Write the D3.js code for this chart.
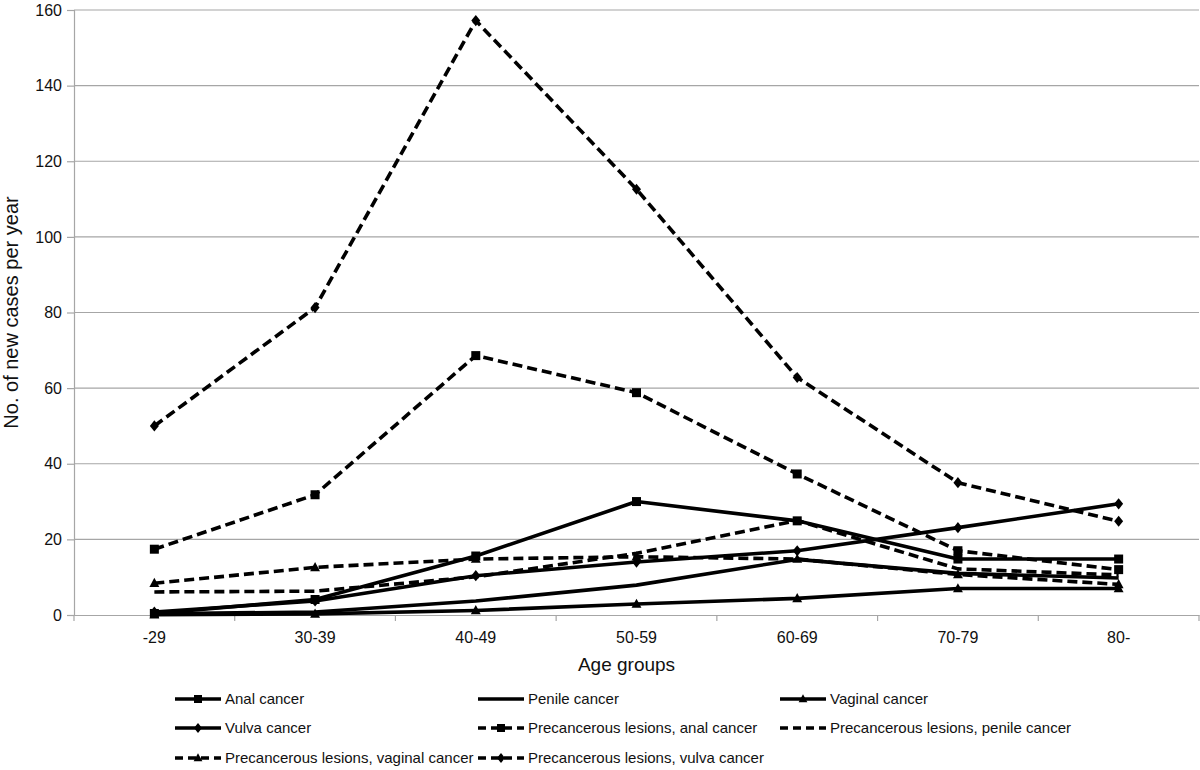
<!DOCTYPE html>
<html><head><meta charset="utf-8">
<script src="https://cdn.jsdelivr.net/npm/d3@7"></script>
<style>body{margin:0;background:#fff}svg{display:block}</style>
</head><body>
<svg id="c" width="1200" height="770"></svg>
<script>
const categories = ["-29","30-39","40-49","50-59","60-69","70-79","80-"];
const yTicks = [0,20,40,60,80,100,120,140,160];
const anal = [0.4, 4.1, 15.6, 30.0, 24.9, 14.8, 14.8];
const penile = [0.3, 0.8, 3.7, 7.9, 14.7, 11.0, 9.8];
const vaginal = [0.1, 0.3, 1.2, 2.9, 4.4, 7.0, 7.0];
const vulva = [0.8, 3.7, 10.4, 14.0, 17.0, 23.1, 29.4];
const preAnal = [17.4, 31.8, 68.6, 58.8, 37.3, 17.0, 12.0];
const prePenile = [6.1, 6.3, 10.1, 16.3, 25.0, 12.2, 10.6];
const preVaginal = [8.4, 12.6, 14.8, 15.4, 14.8, 10.7, 8.1];
const preVulva = [50.0, 81.3, 157.2, 112.6, 62.8, 35.0, 24.8];
const seriesNames = ["Anal cancer","Penile cancer","Vaginal cancer","Vulva cancer",
  "Precancerous lesions, anal  cancer","Precancerous lesions, penile cancer",
  "Precancerous lesions, vaginal  cancer","Precancerous lesions, vulva cancer"];
const seriesValues = [anal, penile, vaginal, vulva, preAnal, prePenile, preVaginal, preVulva];
const seriesMarkers = ["square","none","triangle","diamond","square","none","triangle","diamond"];
const seriesDashed = [false,false,false,false,true,true,true,true];

const svg = d3.select("#c");
const L = 74, R = 1199, T = 10, B = 615;
const x = d3.scaleBand().domain(categories).range([L, R]);
const y = d3.scaleLinear().domain([0,160]).range([B, T]);
const narrow = "'Liberation Sans Narrow','Arial Narrow','Liberation Sans',Arial,sans-serif";
const sans = "'Liberation Sans',Arial,sans-serif";

// gridlines
svg.append("g").selectAll("line").data(yTicks.filter(d=>d>0)).join("line")
  .attr("x1", L).attr("x2", R).attr("y1", d=>y(d)).attr("y2", d=>y(d))
  .attr("stroke", "#a6a6a6").attr("stroke-width", 1.2);

// y axis
const ya = svg.append("g").attr("transform", `translate(${L},0)`)
  .call(d3.axisLeft(y).tickValues(yTicks).tickSize(7).tickPadding(5));
ya.select(".domain").attr("stroke", "#a6a6a6").attr("stroke-width", 1.2);
ya.selectAll(".tick line").attr("stroke", "#a6a6a6").attr("stroke-width", 1.2);
ya.selectAll("text").attr("font-family", sans).attr("font-size", 16).attr("fill", "#111");

// x axis
const xa = svg.append("g").attr("transform", `translate(0,${B})`)
  .call(d3.axisBottom(x).tickSize(0).tickPadding(17));
xa.select(".domain").attr("stroke", "#a6a6a6").attr("stroke-width", 1.2);
xa.selectAll("text").attr("font-family", narrow).attr("font-size", 16).attr("fill", "#111");
// band boundary ticks
const bounds = categories.map(c => x(c)).concat([R]);
svg.append("g").selectAll("line").data(bounds).join("line")
  .attr("x1", d=>d).attr("x2", d=>d).attr("y1", B).attr("y2", B+6)
  .attr("stroke", "#a6a6a6").attr("stroke-width", 1.2);

// axis titles
svg.append("text").attr("x", (L+R)/2 - 10).attr("y", 671).attr("text-anchor","middle")
  .attr("font-family", narrow).attr("font-size", 19).attr("fill","#111").text("Age groups");
svg.append("text").attr("transform", `translate(18,${(T+B)/2}) rotate(-90)`).attr("text-anchor","middle")
  .attr("font-family", sans).attr("font-size", 20).attr("fill","#111").text("No. of new cases per year");

function marker(g, type, cx, cy, s) {
  if (type === "square") g.append("rect").attr("x", cx-s/2).attr("y", cy-s/2).attr("width", s).attr("height", s).attr("fill","#000");
  else if (type === "diamond") g.append("path").attr("d", `M${cx},${cy-s*0.62}L${cx+s*0.5},${cy}L${cx},${cy+s*0.62}L${cx-s*0.5},${cy}Z`).attr("fill","#000");
  else if (type === "triangle") g.append("path").attr("d", `M${cx},${cy-s*0.6}L${cx+s*0.55},${cy+s*0.42}L${cx-s*0.55},${cy+s*0.42}Z`).attr("fill","#000");
}

const line = d3.line().x((d,i)=>x(categories[i]) + x.bandwidth()/2).y(d=>y(d));
const plot = svg.append("g");
seriesValues.forEach((vals, k) => {
  plot.append("path").attr("d", line(vals)).attr("fill","none").attr("stroke","#000")
    .attr("stroke-width", 3.6).attr("stroke-linejoin","round")
    .attr("stroke-dasharray", seriesDashed[k] ? "10,5" : null);
  vals.forEach((v,i) => marker(plot, seriesMarkers[k], x(categories[i]) + x.bandwidth()/2, y(v), 9));
});

// legend
const legX = [175, 478, 780], legY = [699, 728, 758];
seriesNames.forEach((name, k) => {
  const col = k % 3, row = Math.floor(k / 3);
  const g = svg.append("g");
  const lx = legX[col], ly = legY[row];
  g.append("line").attr("x1", lx).attr("x2", lx+46).attr("y1", ly).attr("y2", ly)
    .attr("stroke","#000").attr("stroke-width",3.6)
    .attr("stroke-dasharray", seriesDashed[k] ? "8,5" : null);
  marker(g, seriesMarkers[k], lx+23, ly, 8);
  g.append("text").attr("x", lx+50).attr("y", ly+5).attr("font-family", narrow)
    .attr("font-size", 15).attr("fill","#111").text(name);
});
</script>
</body></html>
